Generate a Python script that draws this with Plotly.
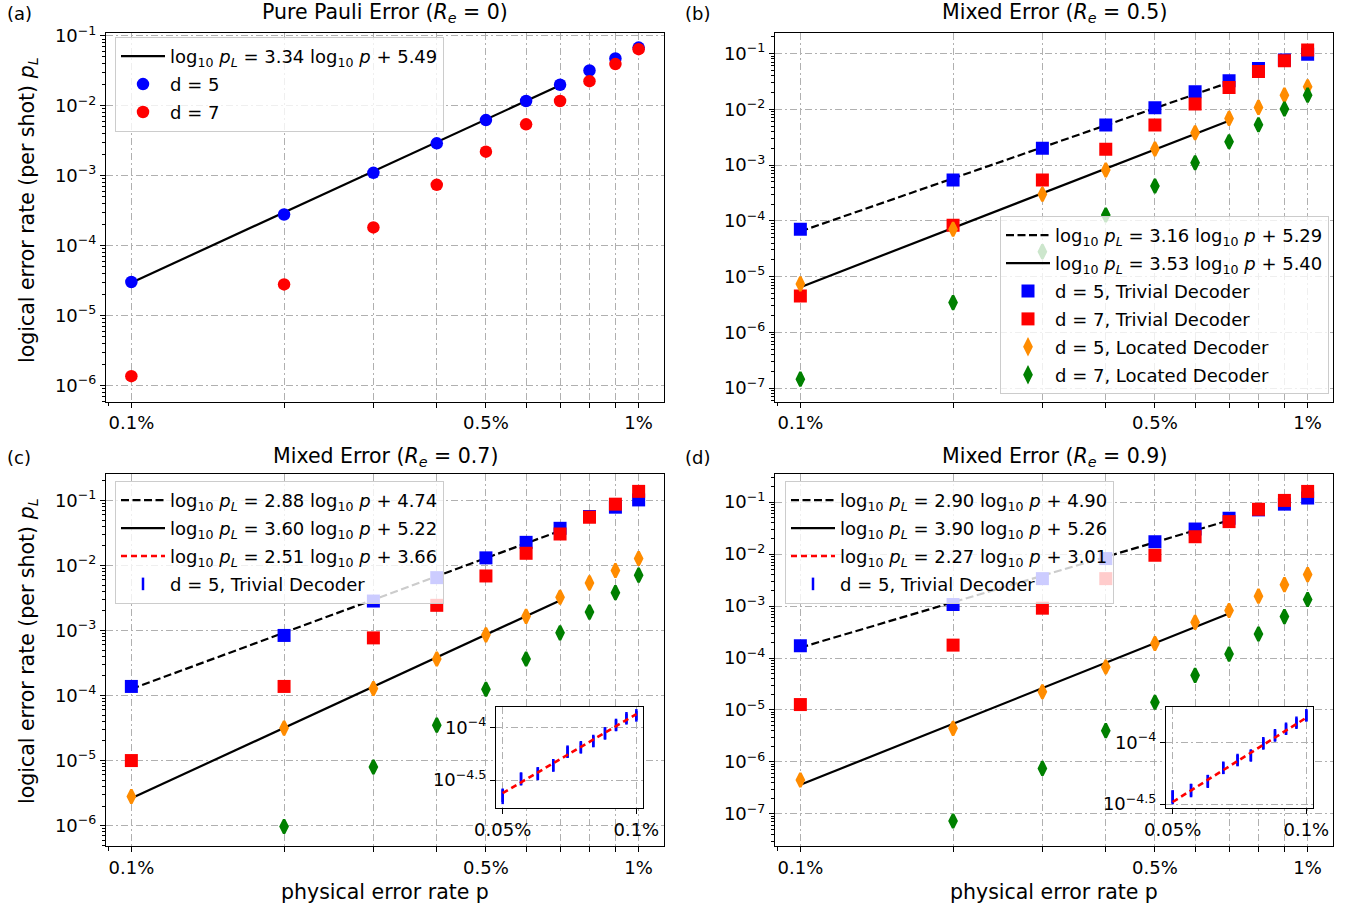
import math
import plotly.graph_objects as go

# ---------------- data ----------------
p_main = [0.001, 0.002, 0.003, 0.004, 0.005, 0.006, 0.007, 0.008, 0.009, 0.010]
p_inset = [0.0005, 0.00055, 0.0006, 0.00065, 0.0007, 0.00075, 0.0008, 0.00085, 0.0009, 0.00095, 0.001]
fit_range = [0.001, 0.007]
inset_fit_range = [0.0005, 0.001]

x_tick_vals = [0.001, 0.002, 0.003, 0.004, 0.005, 0.006, 0.007, 0.008, 0.009, 0.010]
x_tick_text = ["0.1%", "", "", "", "0.5%", "", "", "", "", "1%"]
y_tick_exp = [-7, -6, -5, -4, -3, -2, -1]
inset_x_vals = [0.0005, 0.001]
inset_x_text = ["0.05%", "0.1%"]
inset_y_exp = [-4.5, -4]
inset_y_text = ["10<sup>\u22124.5</sup>", "10<sup>\u22124</sup>"]

# (a) pure Pauli
a_d5 = [3.02e-5, 2.79e-4, 1.10e-3, 2.90e-3, 6.25e-3, 1.17e-2, 2.0e-2, 3.2e-2, 4.74e-2, 6.8e-2]
a_d7 = [1.36e-6, 2.79e-5, 1.82e-4, 7.4e-4, 2.21e-3, 5.43e-3, 1.17e-2, 2.25e-2, 3.95e-2, 6.45e-2]
a_fit = [(3.34, 5.49, "solid")]

# (b) R_e = 0.5
b_d5_triv = [7.05e-5, 5.38e-4, 1.99e-3, 5.2e-3, 1.06e-2, 2.06e-2, 3.24e-2, 5.38e-2, 7.6e-2, 9.7e-2]
b_d7_triv = [4.5e-6, 8.3e-5, 5.38e-4, 1.91e-3, 5.2e-3, 1.24e-2, 2.46e-2, 4.77e-2, 7.4e-2, 1.15e-1]
b_d5_loc = [7.4e-6, 7.05e-5, 2.99e-4, 8.13e-4, 1.94e-3, 3.8e-3, 6.86e-3, 1.08e-2, 1.79e-2, 2.53e-2]
b_d7_loc = [1.45e-7, 3.42e-6, 2.8e-5, 1.27e-4, 4.2e-4, 1.1e-3, 2.62e-3, 5.27e-3, 1.01e-2, 1.79e-2]
b_fit = [(3.16, 5.29, "dash"), (3.53, 5.40, "solid")]

# (c) R_e = 0.7
c_d5_triv = [1.38e-4, 8.4e-4, 2.84e-3, 6.5e-3, 1.31e-2, 2.27e-2, 3.73e-2, 5.66e-2, 7.88e-2, 1.02e-1]
c_d7_triv = [1.0e-5, 1.38e-4, 7.7e-4, 2.44e-3, 6.9e-3, 1.54e-2, 3.05e-2, 5.52e-2, 8.77e-2, 1.38e-1]
c_d5_loc = [2.8e-6, 3.16e-5, 1.28e-4, 3.65e-4, 8.57e-4, 1.65e-3, 3.24e-3, 5.4e-3, 8.37e-3, 1.28e-2]
c_d7_loc = [None, 9.7e-7, 7.97e-6, 3.5e-5, 1.25e-4, 3.65e-4, 9.2e-4, 1.92e-3, 3.82e-3, 7.1e-3]
c_fit = [(2.88, 4.74, "dash"), (3.60, 5.22, "solid")]
c_inset = [2.244e-5, 3.26e-5, 3.66e-5, 4.375e-5, 5.90e-5, 6.50e-5, 7.46e-5, 8.83e-5, 1.062e-4, 1.230e-4, 1.312e-4]
c_inset_rel_err = [0.17, 0.14, 0.14, 0.13, 0.12, 0.12, 0.12, 0.12, 0.12, 0.11, 0.10]
c_inset_fit = (2.51, 3.66)

# (d) R_e = 0.9
d_d5_triv = [1.72e-4, 1.07e-3, 3.37e-3, 8.2e-3, 1.73e-2, 3.04e-2, 4.9e-2, 7.1e-2, 9.15e-2, 1.2e-1]
d_d7_triv = [1.27e-5, 1.77e-4, 9.1e-4, 3.37e-3, 9.5e-3, 2.16e-2, 4.22e-2, 7.3e-2, 1.08e-1, 1.61e-1]
d_d5_loc = [4.48e-7, 4.43e-6, 2.24e-5, 6.7e-5, 1.9e-4, 4.86e-4, 8.2e-4, 1.55e-3, 2.58e-3, 4.03e-3]
d_d7_loc = [None, 7.3e-8, 7.5e-7, 3.99e-6, 1.41e-5, 4.64e-5, 1.19e-4, 2.89e-4, 6.27e-4, 1.34e-3]
d_fit = [(2.90, 4.90, "dash"), (3.90, 5.26, "solid")]
d_inset = [3.622e-5, 4.10e-5, 4.853e-5, 6.22e-5, 7.19e-5, 7.83e-5, 9.82e-5, 1.140e-4, 1.288e-4, 1.442e-4, 1.656e-4]
d_inset_rel_err = [0.13, 0.125, 0.12, 0.11, 0.10, 0.10, 0.10, 0.10, 0.10, 0.09, 0.10]
d_inset_fit = (2.27, 3.01)

titles = ["Pure Pauli Error (<i>R<sub>e</sub></i> = 0)",
          "Mixed Error (<i>R<sub>e</sub></i> = 0.5)",
          "Mixed Error (<i>R<sub>e</sub></i> = 0.7)",
          "Mixed Error (<i>R<sub>e</sub></i> = 0.9)"]
panel_tags = ["(a)", "(b)", "(c)", "(d)"]

# ---------------- layout helpers ----------------
W, H = 1353, 907
FONT = "DejaVu Sans"
FS_TICK = 18
FS_LEG = 18
FS_TAG = 18
FS_TITLE = 20.5
FS_LABEL = 20.5


def fx(px):
    return px / W


def fy(py):
    return 1 - py / H


DASH_FIT = "8px,3.5px"
GRID_DASH = "7px,3px,2px,3px"

fig = go.Figure()


def fit_label(a, b):
    return ("log<sub>10</sub> <i>p<sub>L</sub></i> = %.2f log<sub>10</sub> <i>p</i> + %.2f" % (a, b))


def fit_trace(a, b, style, xa, ya, leg, rank, color="black", width=2.2, rng=fit_range, dash=None):
    xs = list(rng)
    ys = [10 ** (a * math.log10(v) + b) for v in xs]
    return go.Scatter(x=xs, y=ys, mode="lines",
                      line=dict(color=color, width=width,
                                dash=(dash if dash else (DASH_FIT if style == "dash" else "solid"))),
                      name=fit_label(a, b), xaxis=xa, yaxis=ya, legend=leg,
                      legendgroup="%s_%d" % (leg, rank), legendrank=rank, hoverinfo="skip")


def mk_trace(ys, name, color, symbol, size, xa, ya, leg, rank, show=True):
    lw = 2.5 if symbol == "diamond-tall" else 0
    return go.Scatter(x=p_main, y=ys, mode="markers",
                      marker=dict(symbol=symbol, size=size, color=color,
                                  line=dict(color=color, width=lw)),
                      name=name, xaxis=xa, yaxis=ya, legend=leg,
                      legendgroup="%s_%d" % (leg, rank), legendrank=rank,
                      showlegend=show, hoverinfo="skip")


DIA = 10
# (a)
fig.add_trace(fit_trace(a_fit[0][0], a_fit[0][1], a_fit[0][2], "x", "y", "legend", 1))
fig.add_trace(mk_trace(a_d5, "d = 5", "blue", "circle", 12.5, "x", "y", "legend", 2))
fig.add_trace(mk_trace(a_d7, "d = 7", "red", "circle", 12.5, "x", "y", "legend", 3))

# (b)
for i, (a, b, s) in enumerate(b_fit):
    fig.add_trace(fit_trace(a, b, s, "x2", "y2", "legend2", i + 1))
fig.add_trace(mk_trace(b_d5_triv, "d = 5, Trivial Decoder", "blue", "square", 13, "x2", "y2", "legend2", 3))
fig.add_trace(mk_trace(b_d7_triv, "d = 7, Trivial Decoder", "red", "square", 13, "x2", "y2", "legend2", 4))
fig.add_trace(mk_trace(b_d5_loc, "d = 5, Located Decoder", "darkorange", "diamond-tall", DIA, "x2", "y2", "legend2", 5))
fig.add_trace(mk_trace(b_d7_loc, "d = 7, Located Decoder", "green", "diamond-tall", DIA, "x2", "y2", "legend2", 6))

# (c) and (d)
for (fits, s1, s2, s3, s4, ins, rel, ifit, xa, ya, xi, yi, leg) in [
        (c_fit, c_d5_triv, c_d7_triv, c_d5_loc, c_d7_loc, c_inset, c_inset_rel_err, c_inset_fit,
         "x3", "y3", "x5", "y5", "legend3"),
        (d_fit, d_d5_triv, d_d7_triv, d_d5_loc, d_d7_loc, d_inset, d_inset_rel_err, d_inset_fit,
         "x4", "y4", "x6", "y6", "legend4")]:
    for i, (a, b, s) in enumerate(fits):
        fig.add_trace(fit_trace(a, b, s, xa, ya, leg, i + 1))
    fig.add_trace(mk_trace(s1, "d = 5, Trivial Decoder (main)", "blue", "square", 13, xa, ya, leg, 10, show=False))
    fig.add_trace(mk_trace(s2, "d = 7, Trivial Decoder", "red", "square", 13, xa, ya, leg, 11, show=False))
    fig.add_trace(mk_trace(s3, "d = 5, Located Decoder", "darkorange", "diamond-tall", DIA, xa, ya, leg, 12, show=False))
    fig.add_trace(mk_trace(s4, "d = 7, Located Decoder", "green", "diamond-tall", DIA, xa, ya, leg, 13, show=False))
    # inset
    errs = [v * r for v, r in zip(ins, rel)]
    fig.add_trace(go.Scatter(x=p_inset, y=ins, mode="markers",
                             marker=dict(symbol="line-ns", size=9, color="blue",
                                         line=dict(color="blue", width=2.5)),
                             error_y=dict(type="data", array=errs, color="blue", thickness=2.5, width=0),
                             name="d = 5, Trivial Decoder", xaxis=xi, yaxis=yi, legend=leg,
                             legendgroup=leg + "_4", legendrank=4, hoverinfo="skip"))
    fig.add_trace(fit_trace(ifit[0], ifit[1], "dash", xi, yi, leg, 3, color="red", width=2.6,
                            rng=inset_fit_range, dash="6px,4px"))

# ---------------- axes ----------------
axis_common = dict(type="log", showline=True, linecolor="black", linewidth=1, mirror=True,
                   ticks="outside", ticklen=5, tickwidth=1, tickcolor="black",
                   showgrid=True, gridcolor="#b0b0b0", gridwidth=1, griddash=GRID_DASH,
                   zeroline=False, automargin=False,
                   tickfont=dict(family=FONT, size=FS_TICK, color="black"))
minor_common = dict(ticks="outside", ticklen=3.5, tickwidth=1, tickcolor="black", dtick="D1", showgrid=False)

xdoms = {"L": (106, 664), "R": (775, 1333)}
ydoms = {"T": (32.5, 401.5), "B": (474, 846)}
panels = [("", "L", "T", (-6.229, -0.952)),
          ("2", "R", "T", (-7.239, -0.624)),
          ("3", "L", "B", (-6.314, -0.593)),
          ("4", "R", "B", (-7.619, -0.458))]

layout = {}
for (n, xk, yk, yr) in panels:
    x0, x1 = xdoms[xk]
    y0, y1 = ydoms[yk]
    exps = [e for e in y_tick_exp if yr[0] <= e <= yr[1]]
    layout["xaxis" + n] = dict(axis_common, domain=[fx(x0), fx(x1)], anchor="y" + n,
                               range=[math.log10(p_main[0]) - 0.05, math.log10(p_main[-1]) + 0.05],
                               tickmode="array", tickvals=x_tick_vals, ticktext=x_tick_text,
                               minor=minor_common)
    layout["yaxis" + n] = dict(axis_common, domain=[fy(y1), fy(y0)], anchor="x" + n,
                               range=list(yr), tickmode="array",
                               tickvals=[10 ** e for e in exps],
                               ticktext=["10<sup>\u2212%d</sup>" % (-e) for e in exps],
                               minor=minor_common)

insets = [("5", (496, 643), (707, 808), (-4.767, -3.802)),
          ("6", (1166, 1313), (706.7, 808), (-4.532, -3.711))]
for (n, (x0, x1), (y0, y1), yr) in insets:
    layout["xaxis" + n] = dict(axis_common, domain=[fx(x0), fx(x1)], anchor="y" + n,
                               range=[math.log10(p_inset[0]) - 0.015, math.log10(p_inset[-1]) + 0.015],
                               tickmode="array", tickvals=inset_x_vals, ticktext=inset_x_text)
    layout["yaxis" + n] = dict(axis_common, domain=[fy(y1), fy(y0)], anchor="x" + n,
                               range=list(yr), tickmode="array",
                               tickvals=[10 ** e for e in inset_y_exp], ticktext=inset_y_text)

leg_common = dict(bgcolor="rgba(255,255,255,0.8)", bordercolor="#cccccc", borderwidth=1,
                  font=dict(family=FONT, size=FS_LEG, color="black"), traceorder="grouped",
                  tracegroupgap=1.5, xanchor="left", yanchor="top", itemwidth=44)
layout["legend"] = dict(leg_common, x=fx(115), y=fy(37))
layout["legend2"] = dict(leg_common, x=fx(1000), y=fy(216))
layout["legend3"] = dict(leg_common, x=fx(115), y=fy(481))
layout["legend4"] = dict(leg_common, x=fx(785), y=fy(481))

annotations = []
title_pos = [(385, 13), (1054, 13), (385, 457), (1054, 457)]
tag_pos = [(5, 13), (683, 13), (5, 457), (683, 457)]
for t, tg, (tx, ty), (gx, gy) in zip(titles, panel_tags, title_pos, tag_pos):
    annotations.append(dict(text=t, x=fx(tx), y=fy(ty), xref="paper", yref="paper",
                            xanchor="center", yanchor="middle", showarrow=False,
                            font=dict(family=FONT, size=FS_TITLE, color="black")))
    annotations.append(dict(text=tg, x=fx(gx), y=fy(gy), xref="paper", yref="paper",
                            xanchor="left", yanchor="middle", showarrow=False,
                            font=dict(family=FONT, size=FS_TAG, color="black")))
for cy in [210, 651]:
    annotations.append(dict(text="logical error rate (per shot) <i>p<sub>L</sub></i>",
                            x=fx(28), y=fy(cy), xref="paper", yref="paper", textangle=-90,
                            xanchor="center", yanchor="middle", showarrow=False,
                            font=dict(family=FONT, size=FS_LABEL, color="black")))
for cx in [385, 1054]:
    annotations.append(dict(text="physical error rate p", x=fx(cx), y=fy(892), xref="paper", yref="paper",
                            xanchor="center", yanchor="middle", showarrow=False,
                            font=dict(family=FONT, size=FS_LABEL, color="black")))

fig.update_layout(**layout)
fig.update_layout(width=W, height=H, margin=dict(l=0, r=0, t=0, b=0, pad=0, autoexpand=False),
                  paper_bgcolor="white", plot_bgcolor="white", showlegend=True,
                  annotations=annotations, font=dict(family=FONT, size=FS_TICK, color="black"))

fig.write_html("out.html")
